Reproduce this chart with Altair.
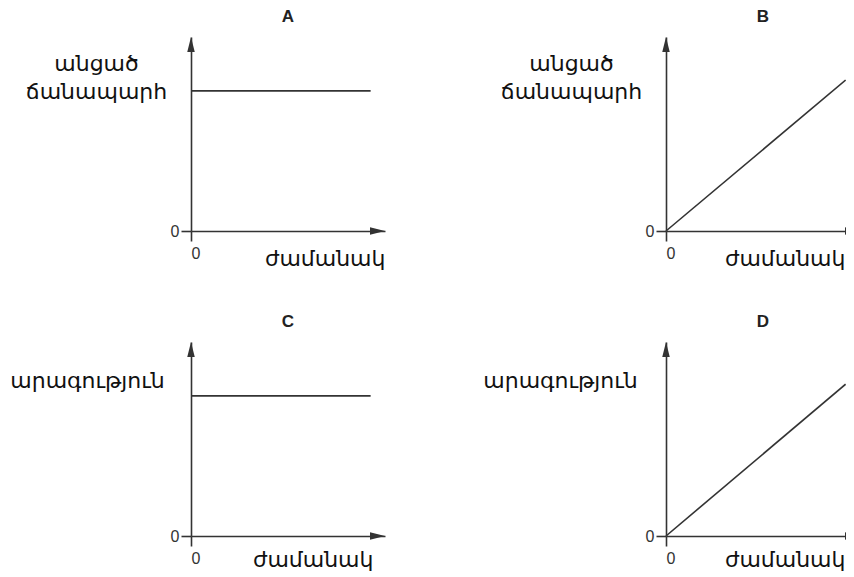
import altair as alt
import pandas as pd

# ---- data ----
time = [0, 10]
dist_A = [7.8, 7.8]
dist_B = [0, 8.4]
speed_C = [7.8, 7.8]
speed_D = [0, 8.45]

panel_letters = ["A", "B", "C", "D"]
y_titles = [["անցած", "ճանապարհ"], ["անցած", "ճանապարհ"], ["արագություն"], ["արագություն"]]
x_title = "ժամանակ"
zero_tick = [0]

X_MAX = 10.8
Y_MAX = 10.8
W = 194
H = 194
INK = "#333333"
ARM_FONT = "DejaVu Sans"
LAT_FONT = "Liberation Sans"

UP = "M0,0L-0.5,2L0.5,2Z"
RIGHT = "M0,0L-2,-0.5L-2,0.5Z"


def panel(letter, values, ytitle, ty_title, tx_title, xt_end, xt_y):
    df = pd.DataFrame({"t": time, "v": values})
    xs = alt.Scale(domain=[0, X_MAX], nice=False, zero=True)
    ys = alt.Scale(domain=[0, Y_MAX], nice=False, zero=True)
    xaxis = alt.Axis(
        values=zero_tick, grid=False, domainColor=INK, domainWidth=1.6,
        tickColor=INK, tickWidth=1.6, tickSize=10, labelPadding=4,
        labelFont=LAT_FONT, labelFontSize=16, labelColor=INK,
        title=x_title, titleFont=ARM_FONT, titleFontSize=22,
        titleFontWeight="normal", titleColor="#111111",
        titleAlign="right", titleAnchor="end", titleBaseline="alphabetic",
        titleX=xt_end, titleY=xt_y,
    )
    yaxis = alt.Axis(
        values=zero_tick, grid=False, domainColor=INK, domainWidth=1.6,
        tickColor=INK, tickWidth=1.6, tickSize=10, labelPadding=2,
        labelFont=LAT_FONT, labelFontSize=16, labelColor=INK,
        title=ytitle, titleFont=ARM_FONT, titleFontSize=22,
        titleFontWeight="normal", titleColor="#111111", titleAngle=0,
        titleAlign="center", titleBaseline="alphabetic", titleLineHeight=28,
        titleX=tx_title, titleY=ty_title,
    )
    line = alt.Chart(df).mark_line(color=INK, strokeWidth=1.6).encode(
        x=alt.X("t:Q", scale=xs, axis=xaxis),
        y=alt.Y("v:Q", scale=ys, axis=yaxis),
    )
    up = alt.Chart(pd.DataFrame({"t": [0], "v": [Y_MAX]})).mark_point(
        shape=UP, size=225, filled=True, color=INK, opacity=1, strokeWidth=0
    ).encode(x=alt.X("t:Q", scale=xs), y=alt.Y("v:Q", scale=ys))
    right = alt.Chart(pd.DataFrame({"t": [X_MAX], "v": [0]})).mark_point(
        shape=RIGHT, size=225, filled=True, color=INK, opacity=1, strokeWidth=0
    ).encode(x=alt.X("t:Q", scale=xs), y=alt.Y("v:Q", scale=ys))
    return alt.layer(line, up, right).properties(
        width=W, height=H,
        title=alt.TitleParams(
            letter, font=LAT_FONT, fontSize=17, fontWeight="bold",
            color="#222222", anchor="middle", baseline="alphabetic",
            offset=-2, frame="group",
        ),
    )


pA = panel("A", dist_A, y_titles[0], 33, -95, W, 34)
pB = panel("B", dist_B, y_titles[1], 33, -95, 179, 34)
pC = panel("C", speed_C, y_titles[2], 45, -104, 182, 30)
pD = panel("D", speed_D, y_titles[3], 45, -106, 179, 30)

chart = alt.concat(
    pA, pB, pC, pD, columns=2, bounds="flush",
    spacing={"row": 111, "column": 281},
).properties(
    autosize=alt.AutoSizeParams(type="none"),
    padding={"left": 183, "top": 29, "right": 655, "bottom": 539},
    background="white",
).configure_view(strokeWidth=0, strokeOpacity=0)

chart.save("out.html", embed_options={"renderer": "svg", "actions": False})
